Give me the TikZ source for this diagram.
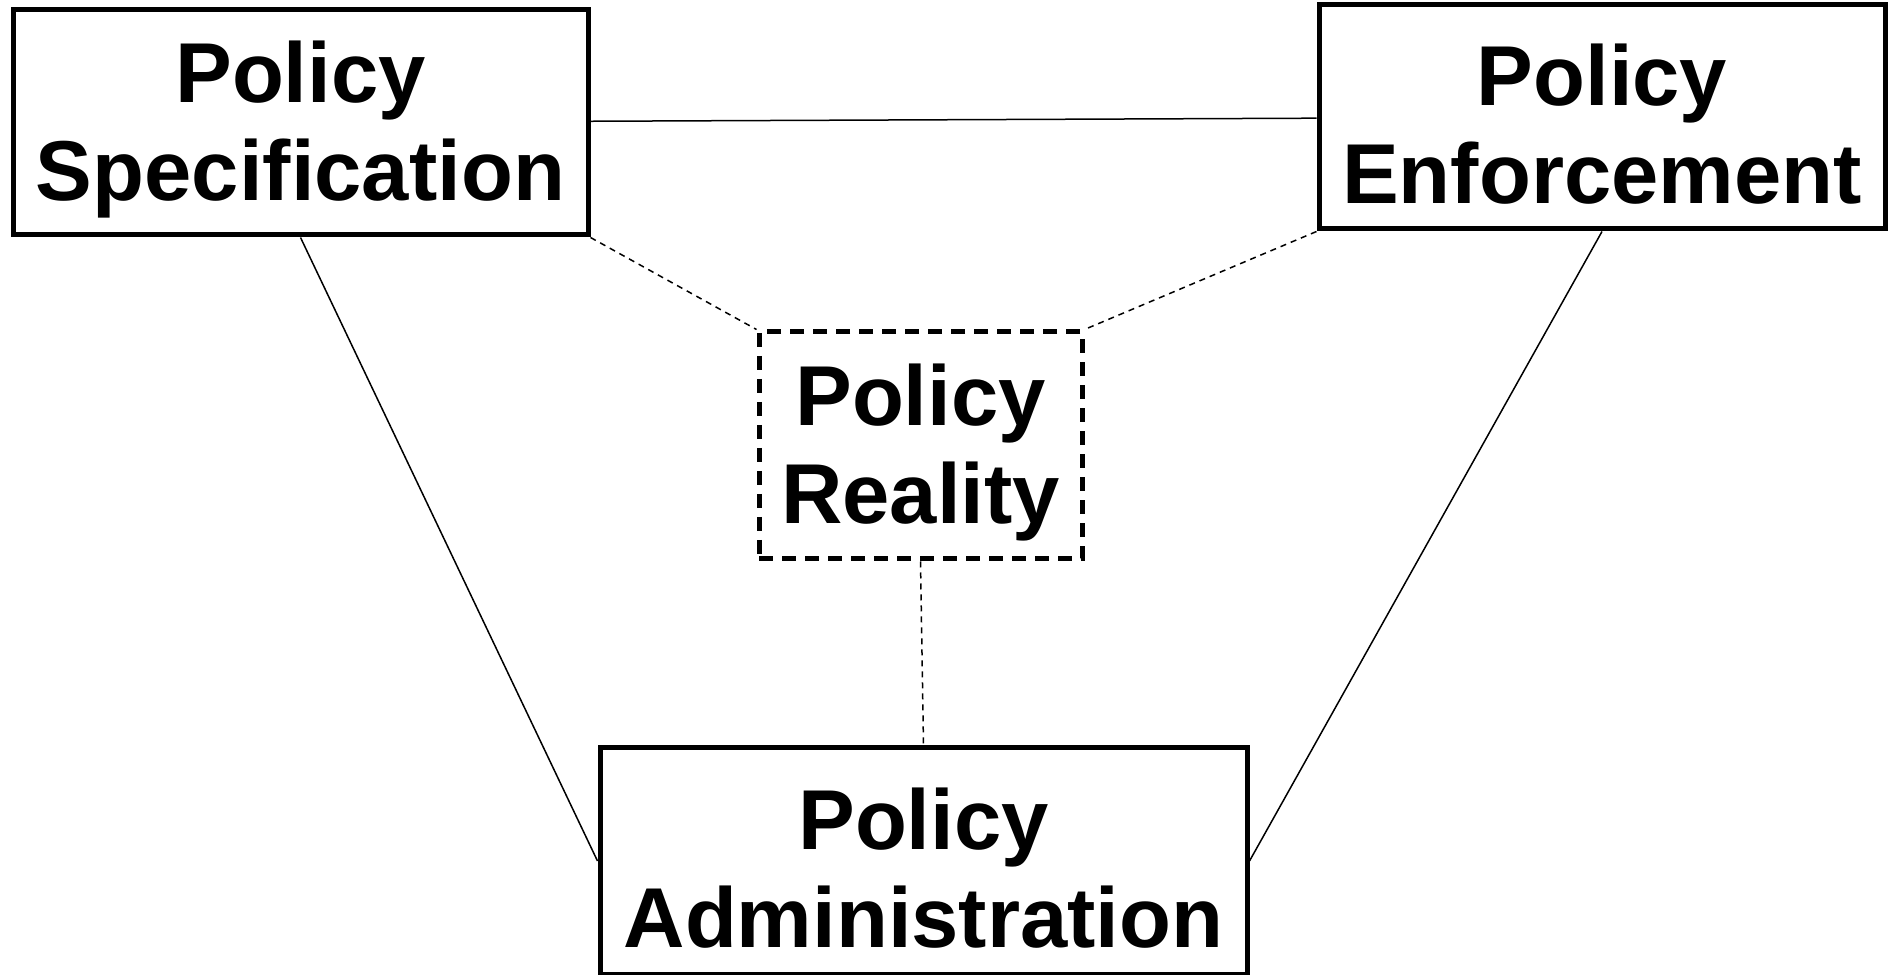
\documentclass[tikz,border=0pt]{standalone}
\usepackage{fontspec}
\setmainfont{Liberation Sans}
\newcommand{\boxlift}{\rule{0pt}{38pt}}

\begin{document}
\begin{tikzpicture}[x=0.5pt, y=0.5pt,
    box/.style={draw, line width=2.5pt, align=center, inner sep=0pt,
      font=\fontsize{42.5}{49}\selectfont\bfseries},
    dashbox/.style={box, dash pattern=on 7pt off 4.5pt},
    link/.style={line width=0.75pt},
    dashlink/.style={link, dash pattern=on 3pt off 2.5pt}]
  \useasboundingbox (0, 0) rectangle (1889, 974);
  \node [box, minimum width=287.5pt, minimum height=112.5pt] (spec) at (300.5, 851.5) {\boxlift Policy\\Specification};
  \node [box, minimum width=283pt, minimum height=112pt] (enf) at (1602, 857) {\boxlift Policy\\Enforcement};
  \node [dashbox, minimum width=161.5pt, minimum height=113.5pt] (real) at (920.5, 528.5) {\boxlift Policy\\Reality};
  \node [box, minimum width=323.5pt, minimum height=113pt] (admin) at (923.5, 113) {\boxlift Policy\\Administration};
  \draw [link] (spec) -- (enf);
  \draw [link] (spec.south) -- (admin.west);
  \draw [link] (enf.south) -- (admin.east);
  \draw [dashlink] (spec.south east) -- (real.north west);
  \draw [dashlink] (enf.south west) -- (real.north east);
  \draw [dashlink] (real.south) -- (admin.north);
\end{tikzpicture}
\end{document}
